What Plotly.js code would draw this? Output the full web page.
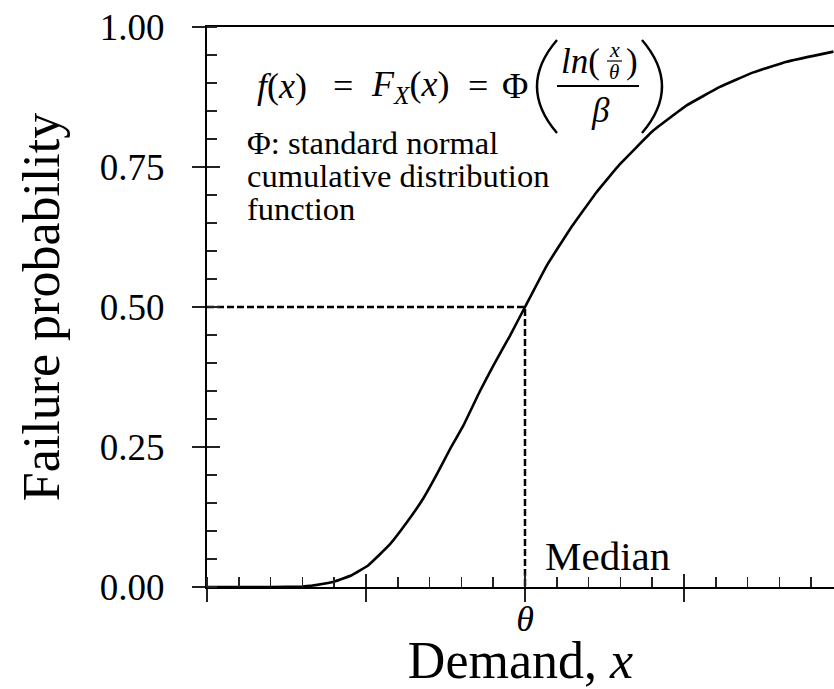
<!DOCTYPE html>
<html>
<head>
<meta charset="utf-8">
<script src="https://cdn.plot.ly/plotly-3.0.1.min.js"></script>
<style>html,body{margin:0;padding:0;background:#fff;}#chart{width:834px;height:689px;}</style>
</head>
<body>
<div id="chart"></div>
<script>
// Demand (x, in units of major tick spacing; theta = 2) and failure probability
var demand = [0, 0.2, 0.4, 0.6, 0.648, 0.80, 0.91, 1.015, 1.15, 1.256, 1.36, 1.445, 1.528, 1.612, 1.717, 1.80, 1.906, 2.0, 2.137, 2.283, 2.45, 2.597, 2.807, 3.017, 3.226, 3.436, 3.646, 3.94];
var probability = [0, 0, 0, 0.001, 0.002, 0.0095, 0.021, 0.039, 0.076, 0.115, 0.158, 0.201, 0.246, 0.288, 0.350, 0.395, 0.449, 0.5, 0.574, 0.639, 0.705, 0.755, 0.815, 0.860, 0.893, 0.919, 0.938, 0.956];

// Median guide lines
var theta = 2;
var medianProb = 0.5;
var guideX = [0, theta, theta];
var guideY = [medianProb, medianProb, 0];

// Tick labels
var yTickVals = [0, 0.25, 0.5, 0.75, 1.0];
var yTickText = ['0.00', '0.25', '0.50', '0.75', '1.00'];
var xMajorTicks = [0, 1, 2, 3];
var xLabelVals = [theta];
var xLabelText = ['<i>θ</i>'];

var serif = 'Liberation Serif, Times New Roman, serif';
var X0 = 207, PX = 159, Y0 = 587, PY = 560;
function dx(px) { return (px - X0) / PX; }
function dy(py) { return (Y0 - py) / PY; }
function pt(px, py) { return dx(px).toFixed(4) + ',' + dy(py).toFixed(4); }

var traces = [
  {x: demand, y: probability, type: 'scatter', mode: 'lines',
   line: {color: '#000', width: 2.6, shape: 'spline', smoothing: 0.3},
   hoverinfo: 'skip', showlegend: false},
  {x: guideX, y: guideY, type: 'scatter', mode: 'lines', xaxis: 'x2', yaxis: 'y2',
   line: {color: '#000', width: 2.5, dash: '7px,3px'},
   hoverinfo: 'skip', showlegend: false},
  {x: [], y: [], type: 'scatter', mode: 'lines', xaxis: 'x3', yaxis: 'y',
   hoverinfo: 'skip', showlegend: false}
];

var xr = [0, dx(834)];
var yr = [0, 1];

function ann(text, px, py, size, xanchor) {
  return {text: text, x: dx(px), y: dy(py), xref: 'x', yref: 'y', showarrow: false,
    xanchor: xanchor || 'center', yanchor: 'middle', font: {family: serif, size: size, color: '#000'}};
}

var annotations = [
  ann('<i>f</i>(<i>x</i>)', 282, 86, 36),
  ann('=', 343, 86, 36),
  ann('<i>F<sub>X</sub></i>(<i>x</i>)', 410, 86, 36),
  ann('=', 478, 86, 36),
  ann('Φ', 515, 86, 36),
  ann('<i>ln</i>(', 580, 61, 35),
  ann('<i>x</i>', 614, 49, 22),
  ann('<i>θ</i>', 614, 72, 21),
  ann(')', 632, 61, 35),
  ann('<i>β</i>', 600, 110, 35),
  ann('Φ: standard normal', 245, 143, 32.5, 'left'),
  ann('cumulative distribution', 245, 176, 32.5, 'left'),
  ann('function', 245, 209, 32.5, 'left'),
  ann('Median', 543, 556, 41, 'left')
];

var shapes = [
  // fraction bars
  {type: 'line', xref: 'x', yref: 'y', x0: dx(557), x1: dx(639), y0: dy(86), y1: dy(86), line: {color: '#000', width: 2}},
  {type: 'line', xref: 'x', yref: 'y', x0: dx(607), x1: dx(622), y0: dy(61), y1: dy(61), line: {color: '#000', width: 1.2}},
  // large delimiters of the formula
  {type: 'path', xref: 'x', yref: 'y', path: 'M' + pt(557, 40) + ' Q' + pt(517, 86.5) + ' ' + pt(557, 133), line: {color: '#000', width: 2.4}},
  {type: 'path', xref: 'x', yref: 'y', path: 'M' + pt(642, 40) + ' Q' + pt(682, 86.5) + ' ' + pt(642, 133), line: {color: '#000', width: 2.4}}
];

var layout = {
  width: 834, height: 689,
  margin: {l: 207, r: 0, t: 27, b: 102, pad: 0},
  paper_bgcolor: '#fff', plot_bgcolor: '#fff',
  font: {family: serif, color: '#000'},
  showlegend: false,
  xaxis: {
    range: xr, showgrid: false, zeroline: false,
    showline: true, linecolor: '#000', linewidth: 2, mirror: true,
    tickmode: 'array', tickvals: xMajorTicks,
    ticks: 'outside', ticklen: 13, tickwidth: 1.5, tickcolor: '#222',
    minor: {ticks: 'inside', ticklen: 10, tickwidth: 1.5, tickcolor: '#222', dtick: 0.2, tick0: 0, showgrid: false},
    showticklabels: false,
    automargin: 'left',
    title: {text: 'Demand, <i>x</i>', font: {family: serif, size: 52, color: '#000'}, standoff: 58},
    fixedrange: true
  },
  xaxis3: {
    overlaying: 'x', anchor: 'y', range: xr, showgrid: false, zeroline: false, showline: false,
    tickmode: 'array', tickvals: xLabelVals, ticktext: xLabelText, ticks: '',
    tickfont: {family: serif, size: 36, color: '#000'},
    ticklabelstandoff: 7, fixedrange: true
  },
  yaxis: {
    range: yr, showgrid: false, zeroline: false,
    showline: true, linecolor: '#000', linewidth: 2,
    tickmode: 'array', tickvals: yTickVals, ticktext: yTickText,
    ticks: 'outside', ticklen: 13, tickwidth: 1.5, tickcolor: '#222',
    minor: {ticks: 'inside', ticklen: 10, tickwidth: 1.5, tickcolor: '#222', dtick: 0.05, tick0: 0, showgrid: false},
    tickfont: {family: serif, size: 37, color: '#000'},
    ticklabelstandoff: 20,
    automargin: 'top',
    title: {text: 'Failure probability', font: {family: serif, size: 52, color: '#000'}, standoff: 24},
    fixedrange: true
  },
  xaxis2: {
    overlaying: 'x', anchor: 'y', range: xr, showgrid: false, zeroline: false, showline: false,
    tickmode: 'array', tickvals: xMajorTicks, ticks: 'inside', ticklen: 13, tickwidth: 1.5, tickcolor: '#222',
    showticklabels: false, fixedrange: true
  },
  yaxis2: {
    overlaying: 'y', anchor: 'x', side: 'left', range: yr, showgrid: false, zeroline: false, showline: false,
    tickmode: 'array', tickvals: yTickVals, ticks: 'inside', ticklen: 13, tickwidth: 1.5, tickcolor: '#222',
    showticklabels: false, fixedrange: true
  },
  annotations: annotations,
  shapes: shapes
};

Plotly.newPlot('chart', traces, layout, {staticPlot: true, displayModeBar: false});
</script>
</body>
</html>
